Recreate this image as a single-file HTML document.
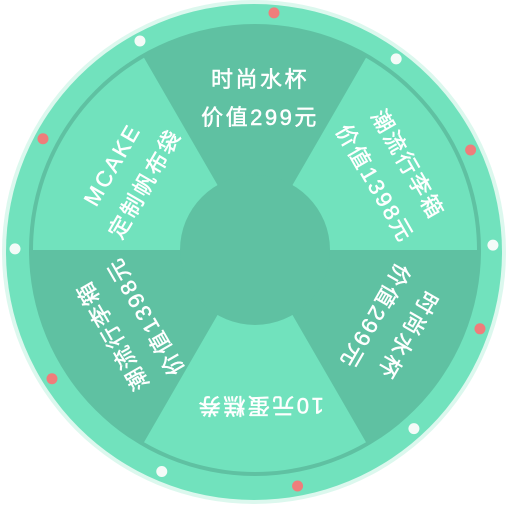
<!DOCTYPE html>
<html><head><meta charset="utf-8"><style>
html,body{margin:0;padding:0;background:#fff;width:506px;height:506px;overflow:hidden}
text{font-family:"Liberation Sans","Noto Sans CJK SC",sans-serif;fill:#fff;font-size:22px;letter-spacing:2.5px;text-anchor:middle;stroke:#fff;stroke-width:0.5px}
</style></head><body>
<svg id="wheel" width="506" height="506" viewBox="0 0 506 506" xmlns="http://www.w3.org/2000/svg">
<circle cx="254" cy="252" r="252" fill="#dcf8ee"/>
<circle cx="254" cy="252" r="248" fill="#71e2bd"/>
<circle cx="255" cy="250" r="226" fill="#5fc1a2"/>
<g id="sectors"></g>
<circle cx="255" cy="250" r="75" fill="#5fc1a2"/>
<g id="labels"></g>
<g id="dots"></g>
</svg>
<script>
const prizeLine1=["时尚水杯","潮流行李箱","时尚水杯","10元蛋糕券","潮流行李箱","MCAKE"];
const prizeLine2=["价值299元","价值1398元","价值299元","","价值1398元","定制帆布袋"];
const sectorShade=["dark","light","dark","light","dark","light"];
const dotColors=["red","white","red","white","red","white","red","white","red","white","red","white"];
const dotAngles=[4.8,36.5,65,88.6,109,138,169.5,202.7,237.7,270.5,298,331.5];
const NS="http://www.w3.org/2000/svg";
const cx=255,cy=250,R=222,r0=75;
function pt(rad,deg){const a=(deg-90)*Math.PI/180;return [cx+rad*Math.cos(a),cy+rad*Math.sin(a)];}
const sg=document.getElementById('sectors');
prizeLine1.forEach((t,i)=>{
  const c=i*60;
  if(sectorShade[i]==='light'){
    const a=pt(r0,c-30),b=pt(R,c-30),d=pt(R,c+30),e=pt(r0,c+30);
    const p=document.createElementNS(NS,'path');
    p.setAttribute('d',`M${a} L${b} A${R} ${R} 0 0 1 ${d} L${e} Z`);
    p.setAttribute('fill','#71e2bd');
    
    
    sg.appendChild(p);
  }
});
const lg=document.getElementById('labels');
prizeLine1.forEach((t,i)=>{
  const g=document.createElementNS(NS,'g');
  g.setAttribute('transform',`translate(${cx+5} ${cy}) rotate(${i*60})`);
  
  
  const lines=prizeLine2[i]?[[t,-163],[prizeLine2[i],-125]]:[[t,-148]];
  lines.forEach(([s,y])=>{
    const tx=document.createElementNS(NS,'text');
    tx.setAttribute('x',0);tx.setAttribute('y',y);
    tx.textContent=s;
    
    
    g.appendChild(tx);
  });
  lg.appendChild(g);
});
const dg=document.getElementById('dots');
dotColors.forEach((col,i)=>{
  const a=(dotAngles[i]-90)*Math.PI/180;
  const c=document.createElementNS(NS,'circle');
  c.setAttribute('cx',254+239*Math.cos(a));
  c.setAttribute('cy',251+239*Math.sin(a));
  c.setAttribute('r',5.5);
  c.setAttribute('fill',col==='red'?'#ef7d7b':'#f4fbf8');
  
  
  dg.appendChild(c);
});
</script>
</body></html>
